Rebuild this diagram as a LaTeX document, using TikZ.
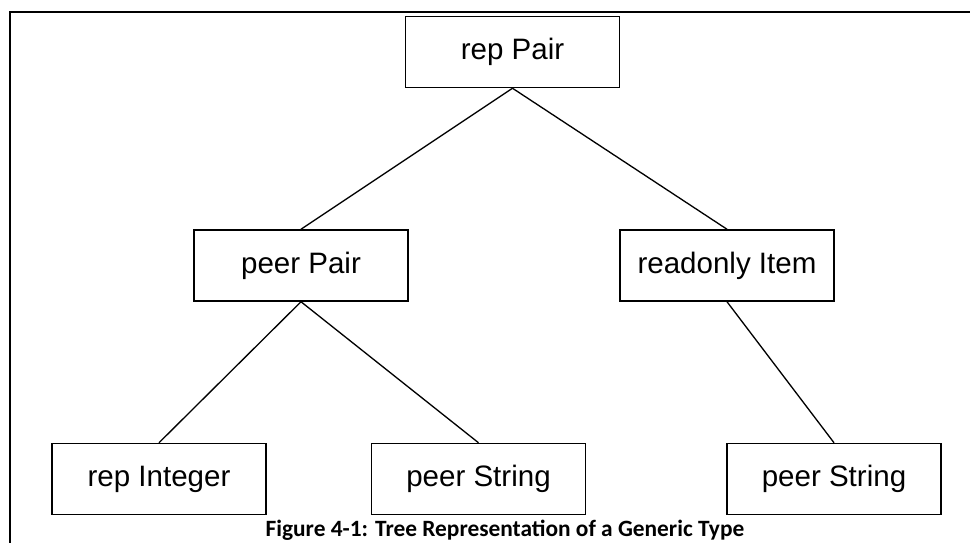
\documentclass[tikz,border=0pt]{standalone}
\usepackage{fontspec}
\setmainfont{Liberation Sans}
\newfontfamily\capfont{Carlito}
\usepackage{tikz}
\usetikzlibrary{positioning}

\begin{document}
\begin{tikzpicture}[
    typebox/.style={draw=black, line width=0.85pt, minimum width=4.28cm, minimum height=1.42cm, inner sep=0pt, font=\fontsize{16.8}{18}\selectfont},
    edge/.style={line width=0.75pt}
]
\useasboundingbox (0, 0) rectangle (19.4, 10.84);

% Frame
\draw[line width=1.4pt] (19.6, 10.6) -- (0.2, 10.6) -- (0.2, -0.2);

% Tree nodes
\node[typebox] (repPair) at (10.25, 9.80) {rep Pair};
\node[typebox] (peerPair) at (6.02, 5.53) {peer Pair};
\node[typebox] (readonlyItem) at (14.54, 5.53) {readonly Item};
\node[typebox] (repInteger) at (3.18, 1.26) {rep Integer};
\node[typebox] (peerStringA) at (9.57, 1.26) {peer String};
\node[typebox] (peerStringB) at (16.68, 1.26) {peer String};

% Edges
\draw[edge] (repPair.south) -- (peerPair.north);
\draw[edge] (repPair.south) -- (readonlyItem.north);
\draw[edge] (peerPair.south) -- (repInteger.north);
\draw[edge] (peerPair.south) -- (peerStringA.north);
\draw[edge] (readonlyItem.south) -- (peerStringB.north);

% Caption
\node[anchor=base, inner sep=0pt, font=\capfont\bfseries\fontsize{13.3}{15}\selectfont] (caption) at (10.1, 0.12) {Figure 4-1: Tree Representation of a Generic Type};

\end{tikzpicture}
\end{document}
